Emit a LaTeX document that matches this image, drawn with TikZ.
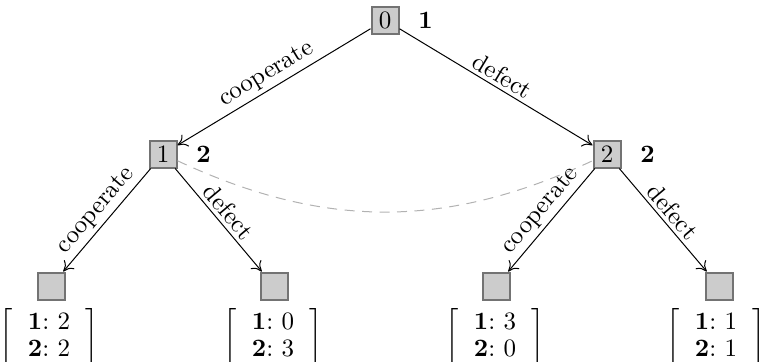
\documentclass[tikz,border=0pt]{standalone}
\usetikzlibrary{arrows.meta}
\begin{document}
\begin{tikzpicture}[x=0.4pt,y=-0.4pt,
  gnode/.style={draw=gray!90!black, fill=gray!40, line width=0.8pt, minimum size=10.8pt, inner sep=0pt, font=\normalsize},
  plabel/.style={font=\bfseries},
  move/.style={->, >={To[length=3.8pt,width=5.5pt]}, line width=0.4pt},
  elabel/.style={midway, sloped, above, inner sep=1.5pt},
  payoff/.style={inner sep=0pt},
  info/.style={dashed, dash pattern=on 4pt off 3pt, gray!60, line width=0.4pt}
]
\useasboundingbox (0,0) rectangle (759,361);
\newcommand{\pay}[2]{$\left[\vcenter{\hbox{\rule{0pt}{21pt}}}\hspace{6pt}\renewcommand{\arraystretch}{0.9}\begin{array}{@{}c@{}}\mathbf{1}\colon\,#1\\ \mathbf{2}\colon\,#2\end{array}\hspace{6pt}\right]$}

\node[gnode, label={[plabel,label distance=4pt]right:1}] (r) at (385,20) {0};
\node[gnode, label={[plabel,label distance=4pt]right:2}] (a) at (163,154) {1};
\node[gnode, label={[plabel,label distance=4pt]right:2}] (b) at (607,154) {2};
\node[gnode] (l1) at (51,286) {};
\node[gnode] (l2) at (274,286) {};
\node[gnode] (l3) at (496,286) {};
\node[gnode] (l4) at (719,286) {};

\node[payoff] (p1) at (49,338) {\pay{2}{2}};
\node[payoff] (p2) at (273,338) {\pay{0}{3}};
\node[payoff] (p3) at (495,338) {\pay{3}{0}};
\node[payoff] (p4) at (716,338) {\pay{1}{1}};

\draw[move] (r) -- node[elabel] {cooperate} (a);
\draw[move] (r) -- node[elabel] {defect} (b);
\draw[move] (a) -- node[elabel] {cooperate} (l1);
\draw[move] (a) -- node[elabel] {defect} (l2);
\draw[move] (b) -- node[elabel] {cooperate} (l3);
\draw[move] (b) -- node[elabel] {defect} (l4);

\draw[info] (a) to[bend right=25] (b);
\end{tikzpicture}
\end{document}
